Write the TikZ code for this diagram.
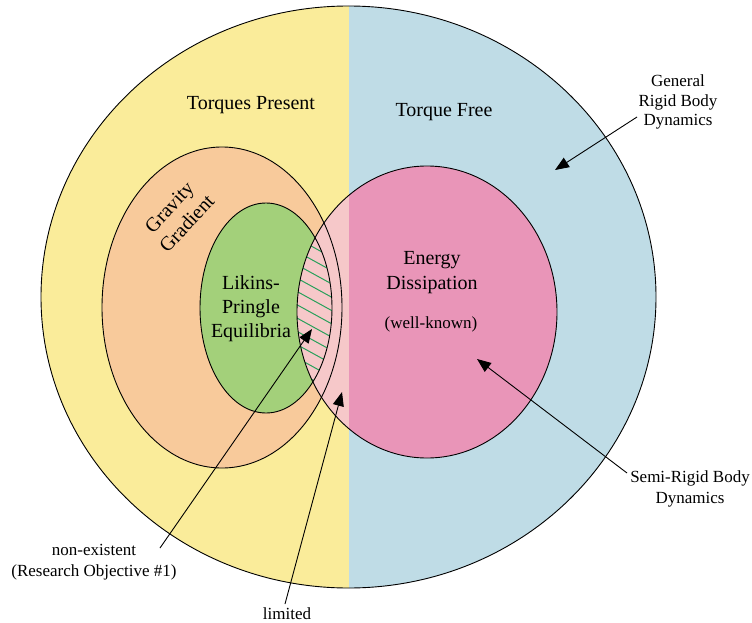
\documentclass[tikz,border=0pt]{standalone}
\usepackage{fontspec}
\setmainfont{Liberation Serif}
\usetikzlibrary{arrows.meta}

\definecolor{torqueY}{RGB}{250,236,154}
\definecolor{freeB}{RGB}{191,220,230}
\definecolor{ggPeach}{RGB}{248,202,155}
\definecolor{lpGreen}{RGB}{163,208,122}
\definecolor{edLight}{RGB}{246,200,201}
\definecolor{edPink}{RGB}{233,149,184}
\definecolor{hatchG}{RGB}{40,160,90}

% region outlines (pixel-like units, y grows downward)
\def\outerE{(348.5,297) ellipse [x radius=307.5, y radius=291]}
\def\gravE{(222,307.5) ellipse [x radius=120, y radius=160.5]}
\def\likE{(266,308) ellipse [x radius=66, y radius=105]}
\def\enE{(427,312) ellipse [x radius=130, y radius=146]}

\begin{document}
\begin{tikzpicture}[x=1pt, y=-1pt,
  outline/.style={draw=black, line width=0.9pt},
  small/.style={font=\fontsize{17}{20}\selectfont, align=center, inner sep=0pt},
  large/.style={font=\fontsize{20}{24}\selectfont, align=center, inner sep=0pt},
  pointer/.style={-{Triangle[length=14pt, width=11pt]}, line width=0.9pt}]
\useasboundingbox (0,0) rectangle (752,623);

% torques present / torque free halves
\begin{scope}
  \clip (0,0) rectangle (349,623);
  \fill[torqueY] \outerE;
\end{scope}
\begin{scope}
  \clip (349,0) rectangle (752,623);
  \fill[freeB] \outerE;
\end{scope}

% gravity gradient and Likins-Pringle regions
\fill[ggPeach] \gravE;
\fill[lpGreen] \likE;

% energy dissipation region, lighter where torques are present
\begin{scope}
  \clip (0,0) rectangle (349,623);
  \fill[edLight] \enE;
\end{scope}
\begin{scope}
  \clip (349,0) rectangle (752,623);
  \fill[edPink] \enE;
\end{scope}

% hatched overlap
\begin{scope}
  \clip \likE;
  \clip \enE;
  \foreach \k in {-20,...,20}
    \draw[hatchG, line width=1pt] (240,{300+13.3*\k}) -- (360,{300+13.3*\k+66});
\end{scope}

% outlines
\draw[outline] \outerE;
\draw[outline] \gravE;
\draw[outline] \likE;
\draw[outline] \enE;

% labels
\node[large, anchor=base] (present) at (251,110) {Torques Present};
\node[large, anchor=base] (free) at (444,116.7) {Torque Free};
\node[large, rotate=47] (gravity) at (178,215.5) {Gravity\\Gradient};
\node[large] (likins) at (251,309) {Likins-\\Pringle\\Equilibria};
\node[large, font=\fontsize{20}{25}\selectfont] (energy) at (432,273) {Energy\\Dissipation};
\node[small, anchor=base] (known) at (431,328) {(well-known)};
\node[small, font=\fontsize{17}{19.5}\selectfont] (general) at (678,102) {General\\Rigid Body\\Dynamics};
\node[small, font=\fontsize{17}{21}\selectfont] (semi) at (690,489) {Semi-Rigid Body\\Dynamics};
\node[small, font=\fontsize{17}{21}\selectfont] (nonex) at (94,562) {non-existent\\(Research Objective \#1)};
\node[small, anchor=base] (limited) at (287,619) {limited};

% pointer arrows
\coordinate (genTail) at (637,117);
\coordinate (genTip) at (555,170);
\coordinate (semiTail) at (627,473);
\coordinate (semiTip) at (477,359);
\coordinate (nonexTail) at (160,548);
\coordinate (nonexTip) at (312,329);
\coordinate (limTail) at (285,604);
\coordinate (limTip) at (342,392);
\draw[pointer] (genTail) -- (genTip);
\draw[pointer] (semiTail) -- (semiTip);
\draw[pointer] (nonexTail) -- (nonexTip);
\draw[pointer] (limTail) -- (limTip);
\end{tikzpicture}
\end{document}
